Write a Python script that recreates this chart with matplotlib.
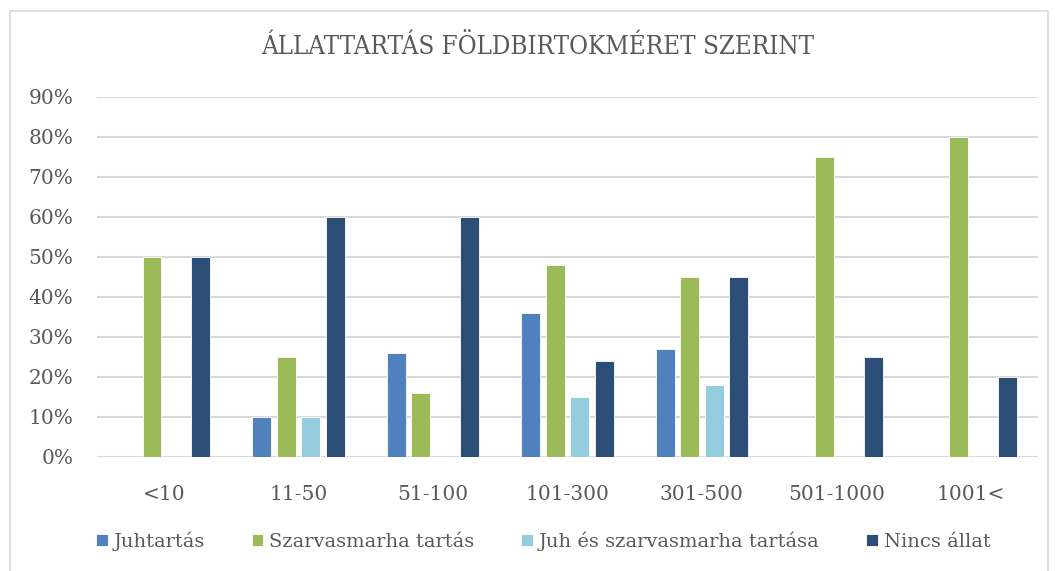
import numpy as np
import matplotlib
matplotlib.use('Agg')
import matplotlib.pyplot as plt
from matplotlib.patches import Rectangle

kategoriak = ['<10', '11-50', '51-100', '101-300', '301-500', '501-1000', '1001<']
juhtartas = [0, 10, 26, 36, 27, 0, 0]
szarvasmarha = [50, 25, 16, 48, 45, 75, 80]
juh_es_szarv = [0, 10, 0, 15, 18, 0, 0]
nincs_allat = [50, 60, 60, 24, 45, 25, 20]
sorozat_nevek = ['Juhtartás', 'Szarvasmarha tartás', 'Juh és szarvasmarha tartása', 'Nincs állat']
yticks = [0, 10, 20, 30, 40, 50, 60, 70, 80, 90]

szinek = ['#4F81BD', '#9BBB59', '#93CDDD', '#2C4D75']
sorozatok = [juhtartas, szarvasmarha, juh_es_szarv, nincs_allat]

plt.rcParams['font.family'] = ['DejaVu Serif']

fig = plt.figure(figsize=(10.55, 5.71), dpi=100)
ax = fig.add_axes([97 / 1055, 1 - 457 / 571, (1038 - 97) / 1055, (457 - 97) / 571])

x = np.arange(len(kategoriak))
lepes = 0.182
szel = 0.141
for i, (adat, szin, nev) in enumerate(zip(sorozatok, szinek, sorozat_nevek)):
    ax.bar(x + (i - 1.5) * lepes, adat, width=szel, color=szin, label=nev,
           edgecolor='white', linewidth=0.6, zorder=3)

ax.set_xlim(-0.5, len(kategoriak) - 0.5)
ax.set_ylim(0, 90)
ax.set_yticks(yticks)
ax.set_yticklabels([f'{v}%' for v in yticks])
ax.set_xticks(x)
ax.set_xticklabels(kategoriak)
ax.grid(axis='y', color='#D9D9D9', linewidth=1.5, zorder=0)
for s in ax.spines.values():
    s.set_visible(False)
ax.tick_params(length=0, labelsize=14.5, colors='#595959')
ax.tick_params(axis='y', pad=17)
ax.tick_params(axis='x', pad=20)

fig.text(538 / 1055, 1 - 47 / 571, 'ÁLLATTARTÁS FÖLDBIRTOKMÉRET SZERINT', ha='center', va='center',
         fontsize=18.5, color='#595959', fontstretch='condensed')

leg = fig.legend(loc='center', bbox_to_anchor=(0.515, 1 - 541 / 571), ncol=4, frameon=False,
                 fontsize=14, handlelength=0.6, handleheight=0.6, handletextpad=0.3,
                 columnspacing=2.4)
for t in leg.get_texts():
    t.set_color('#595959')

fig.patches.append(Rectangle((10 / 1055, -0.05), (1048 - 10) / 1055, 1.05 - 11 / 571,
                             transform=fig.transFigure, fill=False, edgecolor='#D9D9D9',
                             linewidth=1.2))

fig.savefig('out.png', dpi=100)
